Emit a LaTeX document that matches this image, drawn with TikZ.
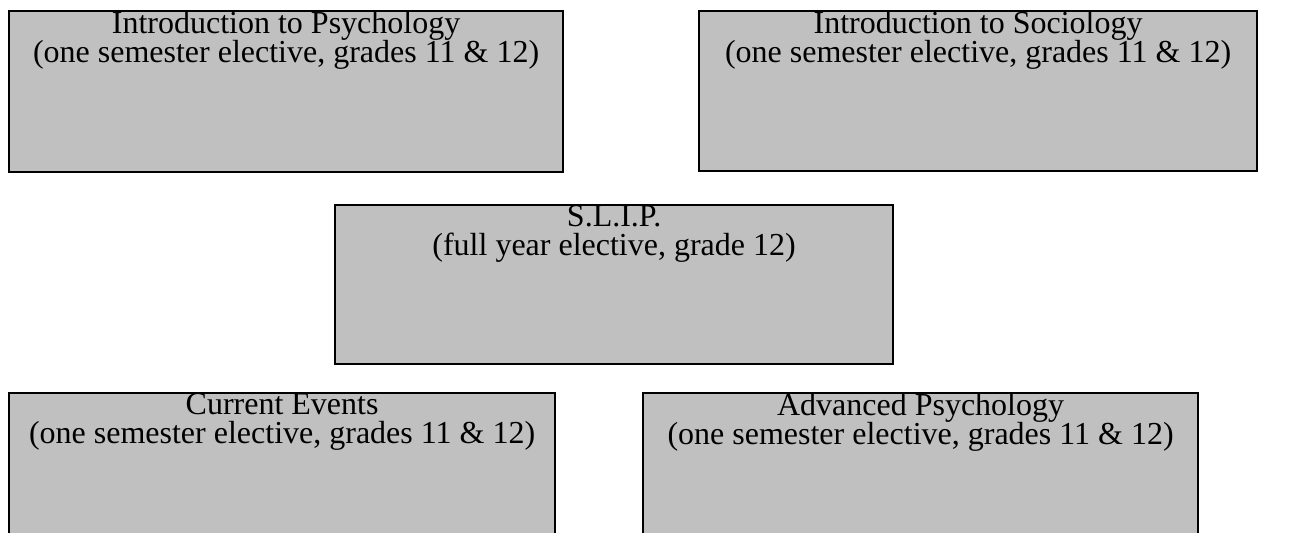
\documentclass[tikz,border=0pt]{standalone}
\usepackage{fontspec}
\setmainfont{Liberation Serif}
\definecolor{boxgray}{HTML}{C0C0C0}
\tikzset{
  px/.style={x=0.5pt,y=-0.5pt},
  coursebox/.style={draw=black, line width=1.1pt, fill=boxgray, rectangle, inner sep=0pt, anchor=north west},
  coursetext/.style={font=\fontsize{16}{14.8}\selectfont, align=center, anchor=north, inner sep=0pt, yshift=-0.3pt}
}
\begin{document}
\begin{tikzpicture}[px]
\clip (0,0) rectangle (1304,533);
\node[coursebox, minimum width=277pt, minimum height=80.5pt, label={[coursetext]north:{Introduction to Psychology\\(one semester elective, grades 11 \& 12)}}] (psy) at (8,10) {};
\node[coursebox, minimum width=279pt, minimum height=80pt, label={[coursetext]north:{Introduction to Sociology\\(one semester elective, grades 11 \& 12)}}] (soc) at (698,10) {};
\node[coursebox, minimum width=279pt, minimum height=79.5pt, label={[coursetext]north:{S.L.I.P.\\(full year elective, grade 12)}}] (slip) at (334,204) {};
\node[coursebox, minimum width=273pt, minimum height=80pt, label={[coursetext]north:{Current Events\\(one semester elective, grades 11 \& 12)}}] (cur) at (8,392) {};
\node[coursebox, minimum width=277.5pt, minimum height=80pt, label={[coursetext]north:{Advanced Psychology\\(one semester elective, grades 11 \& 12)}}] (adv) at (642,392) {};
\end{tikzpicture}
\end{document}
